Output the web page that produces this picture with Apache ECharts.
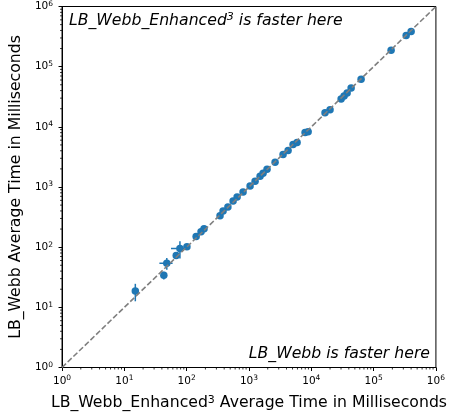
<!DOCTYPE html>
<html>
<head>
<meta charset="utf-8">
<script src="https://cdn.jsdelivr.net/npm/echarts@6/dist/echarts.min.js"></script>
<style>
  html, body { margin: 0; padding: 0; background: #fff; }
  #chart { width: 450px; height: 416px; }
</style>
</head>
<body>
<div id="chart"></div>
<script>
// Average run times (ms) of the two solvers on each instance
const enhancedMs = [15, 43, 48, 68, 78, 101, 142, 170, 190, 343, 384, 459, 556, 645, 804,
  1042, 1253, 1507, 1683, 1950, 2623, 3525, 4245, 5100, 5918, 7950, 8900,
  16600, 20000, 30100, 33600, 37600, 43600, 63000, 191000, 333000, 400000];
const webbMs = [18.6, 34, 54, 73, 95, 102, 150, 181, 202, 332, 401, 466, 586, 682, 824,
  1035, 1250, 1513, 1694, 1973, 2571, 3484, 4055, 5093, 5495, 8020, 8320,
  17150, 19200, 29150, 32500, 36600, 44300, 61800, 187000, 330000, 385000];
// Standard deviations (ms); zero where the spread is too small to show
const enhancedErr = [0, 0, 11.5, 0, 22, 0, 0, 0, 0, 0, 0, 0, 0, 0, 0,
  0, 0, 0, 0, 0, 0, 0, 0, 0, 0, 0, 0, 0, 0, 0, 0, 0, 0, 0, 0, 0, 0];
const webbErr = [6, 5, 12, 0, 30, 0, 0, 0, 0, 0, 0, 0, 0, 0, 0,
  0, 0, 0, 0, 0, 0, 0, 0, 0, 0, 0, 0, 0, 0, 0, 0, 0, 0, 0, 0, 0, 0];

const axisMin = 1;
const axisMax = 1e6;
const minorMultipliers = [2, 3, 4, 5, 6, 7, 8, 9];
const decades = [1, 10, 100, 1000, 10000, 100000];

const BLUE = '#1f77b4';
const FONT = 'DejaVu Sans';

const points = enhancedMs.map((x, i) => [x, webbMs[i]]);
const errRows = enhancedMs.map((x, i) => [x, webbMs[i], enhancedErr[i], webbErr[i]]);
const minorTicks = [];
decades.forEach(d => minorMultipliers.forEach(m => minorTicks.push(m * d)));

const tickFormatter = v => '{b|10}{s|' + Math.round(Math.log10(v)) + '}';
const tickRich = {
  b: { fontSize: 10.5, fontFamily: FONT, color: '#000' },
  s: { fontSize: 7.5, fontFamily: FONT, color: '#000', verticalAlign: 'top', padding: [0, 0, 5, 0] }
};
const titleRich = {
  s: { fontSize: 11, fontFamily: FONT, color: '#000', verticalAlign: 'top', padding: [0, 0, 6, 0] }
};

function logAxis(extra) {
  return Object.assign({
    type: 'log',
    logBase: 10,
    min: axisMin,
    max: axisMax,
    interval: 1,
    axisLine: { show: true, lineStyle: { color: '#000', width: 1 } },
    axisTick: { show: true, inside: false, length: 3.5, lineStyle: { color: '#000', width: 1 } },
    splitLine: { show: false },
    nameLocation: 'middle',
    nameTextStyle: { fontSize: 15.7, fontFamily: FONT, color: '#000', rich: titleRich }
  }, extra);
}

const chart = echarts.init(document.getElementById('chart'), null, { renderer: 'canvas' });
chart.setOption({
  animation: false,
  backgroundColor: '#fff',
  grid: {
    left: 62, right: 14, top: 6, bottom: 46,
    show: true, borderColor: '#000', borderWidth: 1, backgroundColor: 'transparent'
  },
  xAxis: logAxis({
    name: 'LB_Webb_Enhanced{s|3} Average Time in Milliseconds',
    nameGap: 27,
    axisLabel: { formatter: tickFormatter, rich: tickRich, margin: 7 }
  }),
  yAxis: logAxis({
    name: 'LB_Webb Average Time in Milliseconds',
    nameGap: 33,
    axisLabel: { formatter: tickFormatter, rich: tickRich, margin: 9 }
  }),
  graphic: [
    {
      type: 'text', left: 69, top: 12,
      style: {
        text: '{i|LB_Webb_Enhanced}{s|3}{i| is faster here}',
        rich: {
          i: { fontSize: 15.7, fontFamily: FONT, fontStyle: 'italic', fill: '#000' },
          s: { fontSize: 11, fontFamily: FONT, fontStyle: 'italic', fill: '#000', verticalAlign: 'top', padding: [0, 0, 6, 0] }
        }
      }
    },
    {
      type: 'text', right: 20, top: 346,
      style: {
        text: 'LB_Webb is faster here',
        fontSize: 15.7, fontFamily: FONT, fontStyle: 'italic', fill: '#000'
      }
    }
  ],
  series: [
    {
      // minor ticks along the x axis
      type: 'custom', clip: false, silent: true, z: 1,
      data: minorTicks,
      renderItem: (params, api) => {
        const p = api.coord([api.value(0), axisMin]);
        return { type: 'line', shape: { x1: p[0], y1: p[1], x2: p[0], y2: p[1] + 2 },
          style: { stroke: '#000', lineWidth: 0.8 } };
      }
    },
    {
      // minor ticks along the y axis
      type: 'custom', clip: false, silent: true, z: 1,
      data: minorTicks,
      renderItem: (params, api) => {
        const p = api.coord([axisMin, api.value(0)]);
        return { type: 'line', shape: { x1: p[0], y1: p[1], x2: p[0] - 2, y2: p[1] },
          style: { stroke: '#000', lineWidth: 0.8 } };
      }
    },
    {
      // error bars
      type: 'custom', z: 2,
      data: errRows,
      renderItem: (params, api) => {
        const x = api.value(0), y = api.value(1), ex = api.value(2), ey = api.value(3);
        const children = [];
        if (ex > 0) {
          const a = api.coord([x - ex, y]), b = api.coord([x + ex, y]);
          children.push({ type: 'line', shape: { x1: a[0], y1: a[1], x2: b[0], y2: b[1] },
            style: { stroke: BLUE, lineWidth: 1.5 } });
        }
        if (ey > 0) {
          const a = api.coord([x, y - ey]), b = api.coord([x, y + ey]);
          children.push({ type: 'line', shape: { x1: a[0], y1: a[1], x2: b[0], y2: b[1] },
            style: { stroke: BLUE, lineWidth: 1.5 } });
        }
        return { type: 'group', children };
      }
    },
    {
      type: 'scatter', z: 3,
      data: points,
      symbol: 'circle', symbolSize: 7.5,
      itemStyle: { color: BLUE, opacity: 1 }
    },
    {
      // y = x reference
      type: 'line', z: 4,
      data: [[axisMin, axisMin], [axisMax, axisMax]],
      symbol: 'none',
      lineStyle: { color: '#7f7f7f', width: 1.6, type: [5.5, 2.4] }
    }
  ]
});
</script>
</body>
</html>
